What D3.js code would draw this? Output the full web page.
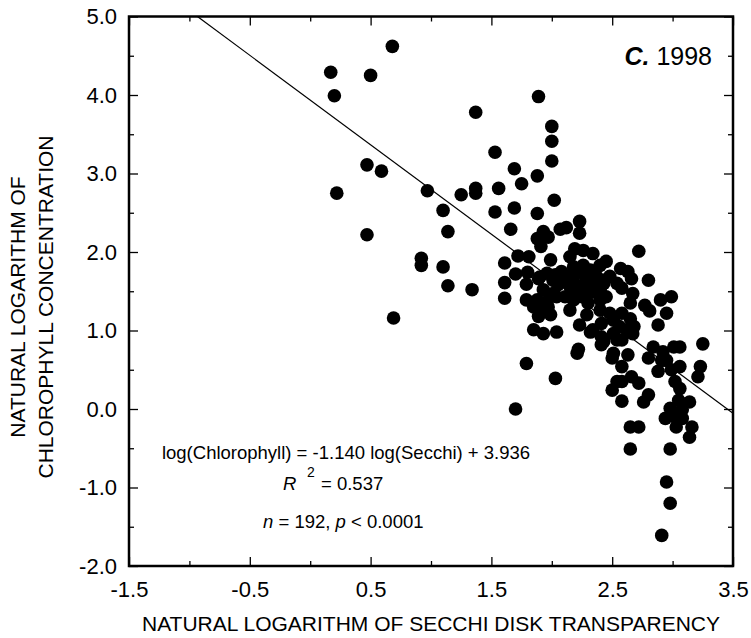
<!DOCTYPE html>
<html>
<head>
<meta charset="utf-8">
<script src="https://cdn.jsdelivr.net/npm/d3@7"></script>
<style>
  html, body { margin: 0; padding: 0; background: #fff; }
  svg { display: block; }
  text { font-family: "Liberation Sans", Arial, Helvetica, sans-serif; fill: #000; }
</style>
</head>
<body>
<svg id="chart" width="751" height="638"></svg>
<script>
// ---- Data ----
const secchi = [
  0.68,0.17,0.50,0.20,0.47,0.59,0.22,0.47,0.69,
  1.37,1.53,1.69,1.75,0.97,1.25,1.37,1.37,1.56,1.69,1.53,
  1.10,1.14,1.66,0.92,0.92,1.10,1.14,1.34,2.00,2.00,
  2.00,1.88,2.02,1.88,1.89,1.72,1.61,1.70,1.80,1.61,
  1.79,1.61,1.79,1.81,2.23,2.23,2.07,2.12,1.93,1.88,
  1.91,1.97,1.99,2.15,2.19,2.26,2.34,1.90,2.03,2.10,
  1.93,1.88,1.96,2.04,2.11,2.18,2.23,2.32,2.37,2.15,
  2.45,2.72,2.57,2.63,2.66,2.80,2.58,2.99,2.90,2.95,
  2.77,2.81,2.65,2.58,2.65,2.68,2.67,2.88,3.25,2.84,
  2.92,3.01,3.06,2.80,2.88,2.95,3.06,3.02,3.06,3.23,
  3.21,1.85,1.90,1.97,1.99,1.85,1.93,2.04,1.89,2.01,
  2.05,2.08,
  2.23,2.29,2.32,2.40,2.34,2.43,2.45,2.41,2.43,2.51,
  2.54,2.50,2.58,2.63,2.54,2.58,2.50,2.66,2.72,2.21,
  2.22,1.79,2.03,2.18,2.26,2.32,2.37,2.43,2.48,2.54,
  2.25,2.30,2.40,2.48,2.51,2.56,2.62,2.67,2.15,2.18,
  2.12,2.01,2.91,
  2.99,3.05,3.14,2.98,3.08,2.94,3.02,3.08,3.03,3.16,
  3.14,2.65,2.72,2.65,2.98,2.95,2.98,2.91,2.58,
  2.76,2.80,2.41,2.41,2.58,2.51,2.40,
  2.29,2.40,2.34,1.70,1.89,1.96,2.20,2.28,2.18
];
const chlorophyll = [
  4.62,4.29,4.25,3.99,3.11,3.03,2.75,2.22,1.16,
  3.78,3.27,3.06,2.87,2.78,2.73,2.81,2.75,2.81,2.56,2.51,
  2.53,2.26,2.29,1.92,1.83,1.81,1.57,1.52,3.60,3.41,
  3.16,2.97,2.66,2.49,3.98,1.95,1.86,1.72,1.74,1.61,
  1.59,1.41,1.39,1.94,2.39,2.24,2.29,2.31,2.26,2.17,
  2.07,2.19,1.90,1.94,2.04,2.02,1.98,1.68,1.71,1.64,
  1.52,1.39,1.37,1.43,1.43,1.49,1.56,1.60,1.61,1.26,
  1.88,2.01,1.79,1.75,1.66,1.64,1.54,1.43,1.39,1.22,
  1.32,1.25,1.35,1.22,1.15,1.05,0.96,1.07,0.83,0.79,
  0.73,0.79,0.79,0.65,0.48,0.62,0.54,0.35,0.26,0.54,
  0.41,1.30,1.26,1.30,1.20,1.01,0.96,0.98,1.66,1.64,
  1.58,1.75,
  1.07,1.20,0.98,1.39,1.49,1.60,1.43,1.09,0.86,0.96,
  0.88,0.65,0.54,0.69,0.35,0.35,0.24,0.41,0.33,0.71,
  0.76,0.58,0.39,1.81,1.83,1.77,1.69,1.64,1.69,1.60,
  1.43,1.35,1.26,1.22,1.13,1.05,1.01,1.47,1.56,1.39,
  1.69,1.47,0.62,
  0.50,0.11,0.09,0.01,-0.01,-0.12,-0.10,-0.12,-0.23,-0.23,
  -0.36,-0.23,-0.23,-0.51,-0.51,-0.93,-1.20,-1.61,0.10,
  0.09,0.18,0.82,0.92,0.88,0.71,1.83,
  1.52,1.52,1.01,0.00,1.18,1.73,1.73,1.69,1.63
];
const slope = -1.140, intercept = 3.936;
const xMajorTicks = [-1.5, -0.5, 0.5, 1.5, 2.5, 3.5];
const xMinorTicks = [-1.0, 0.0, 1.0, 2.0, 3.0];
const yMajorTicks = [-2, -1, 0, 1, 2, 3, 4, 5];
const yMinorTicks = [-1.5, -0.5, 0.5, 1.5, 2.5, 3.5, 4.5];
const xTitle = "NATURAL LOGARITHM OF SECCHI DISK TRANSPARENCY";
const yTitleLines = ["NATURAL LOGARITHM OF", "CHLOROPHYLL CONCENTRATION"];
const eqText = "log(Chlorophyll) = -1.140 log(Secchi) + 3.936";

// ---- Layout ----
const L = 129, R = 733, T = 16.5, B = 566;
const svg = d3.select("#chart");
const x = d3.scaleLinear().domain([-1.5, 3.5]).range([L, R]);
const y = d3.scaleLinear().domain([-2, 5]).range([B, T]);
const fmt = d => d.toFixed(1);   // plain hyphen-minus, as in the reference

const MAJ = 9, MIN = 5;
function styleAxis(g, fontSize) {
  g.select(".domain").remove();
  g.selectAll("line").attr("stroke", "#000").attr("stroke-width", 1.3);
  g.selectAll("text").attr("font-size", fontSize)
    .attr("font-family", '"Liberation Sans", Arial, sans-serif').attr("fill", "#000");
}
// bottom
svg.append("g").attr("transform", `translate(0,${B})`)
  .call(d3.axisBottom(x).tickValues(xMajorTicks).tickSize(-MAJ).tickPadding(15.5).tickFormat(fmt))
  .call(g => styleAxis(g, 22));
svg.append("g").attr("transform", `translate(0,${B})`)
  .call(d3.axisBottom(x).tickValues(xMinorTicks).tickSize(-MIN).tickFormat(""))
  .call(g => styleAxis(g, 22));
// top
svg.append("g").attr("transform", `translate(0,${T})`)
  .call(d3.axisTop(x).tickValues(xMajorTicks).tickSize(-MAJ).tickFormat(""))
  .call(g => styleAxis(g, 22));
svg.append("g").attr("transform", `translate(0,${T})`)
  .call(d3.axisTop(x).tickValues(xMinorTicks).tickSize(-MIN).tickFormat(""))
  .call(g => styleAxis(g, 22));
// left
svg.append("g").attr("transform", `translate(${L},0)`)
  .call(d3.axisLeft(y).tickValues(yMajorTicks).tickSize(-MAJ).tickPadding(12).tickFormat(fmt))
  .call(g => styleAxis(g, 22));
svg.append("g").attr("transform", `translate(${L},0)`)
  .call(d3.axisLeft(y).tickValues(yMinorTicks).tickSize(-MIN).tickFormat(""))
  .call(g => styleAxis(g, 22));
// right
svg.append("g").attr("transform", `translate(${R},0)`)
  .call(d3.axisRight(y).tickValues(yMajorTicks).tickSize(-MAJ).tickFormat(""))
  .call(g => styleAxis(g, 22));
svg.append("g").attr("transform", `translate(${R},0)`)
  .call(d3.axisRight(y).tickValues(yMinorTicks).tickSize(-MIN).tickFormat(""))
  .call(g => styleAxis(g, 22));

// regression line, clipped to the plot
svg.append("clipPath").attr("id", "clip")
  .append("rect").attr("x", L).attr("y", T).attr("width", R - L).attr("height", B - T);
const xStart = (5 - intercept) / slope;
svg.append("line")
  .attr("clip-path", "url(#clip)")
  .attr("x1", x(xStart)).attr("y1", y(5))
  .attr("x2", x(3.5)).attr("y2", y(slope * 3.5 + intercept))
  .attr("stroke", "#000").attr("stroke-width", 1.2);

// points
svg.append("g").selectAll("circle")
  .data(d3.zip(secchi, chlorophyll))
  .join("circle")
  .attr("cx", d => x(d[0])).attr("cy", d => y(d[1]))
  .attr("r", 6.8).attr("fill", "#000");

// frame
svg.append("rect").attr("x", L).attr("y", T).attr("width", R - L).attr("height", B - T)
  .attr("fill", "none").attr("stroke", "#000").attr("stroke-width", 2.5);

// axis titles
svg.append("text").attr("x", (L + R) / 2).attr("y", 631)
  .attr("text-anchor", "middle").attr("font-size", 21).text(xTitle);
const yt = svg.append("g").attr("transform", "translate(0,307) rotate(-90)");
yt.append("text").attr("x", 0).attr("y", 25).attr("text-anchor", "middle").attr("font-size", 21).text(yTitleLines[0]);
yt.append("text").attr("x", 0).attr("y", 53).attr("text-anchor", "middle").attr("font-size", 21).text(yTitleLines[1]);

// panel label
const pl = svg.append("text").attr("x", 712).attr("y", 65).attr("text-anchor", "end").attr("font-size", 25);
pl.append("tspan").attr("font-weight", "bold").attr("font-style", "italic").text("C.");
pl.append("tspan").text(" 1998");

// annotations
svg.append("text").attr("x", 346).attr("y", 459).attr("text-anchor", "middle")
  .attr("font-size", 18.5).text(eqText);
const r2 = svg.append("text").attr("y", 490).attr("font-size", 18.5);
r2.append("tspan").attr("x", 283).attr("font-style", "italic").text("R");
r2.append("tspan").attr("x", 307).attr("dy", -13).attr("font-size", 14).text("2");
r2.append("tspan").attr("x", 321).attr("dy", 13).text("= 0.537");
const nt = svg.append("text").attr("x", 263).attr("y", 528).attr("font-size", 18.5);
nt.append("tspan").attr("font-style", "italic").text("n");
nt.append("tspan").text(" = 192, ");
nt.append("tspan").attr("font-style", "italic").text("p");
nt.append("tspan").text(" < 0.0001");
</script>
</body>
</html>
